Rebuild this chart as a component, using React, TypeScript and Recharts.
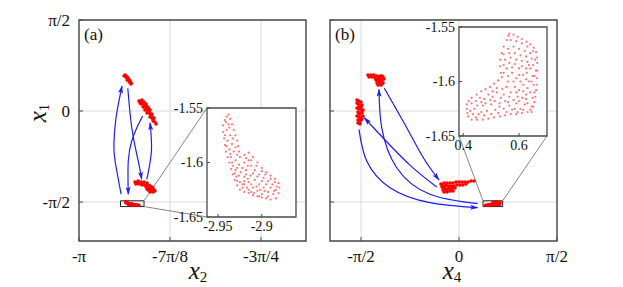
import React from 'react'
import {
  ComposedChart, Scatter, Line, XAxis, YAxis, CartesianGrid, ReferenceArea, ReferenceLine,
} from 'recharts'

type Pt = [number, number]
const PI = Math.PI

// axes
const A_XTICKS = [-PI, -7 * PI / 8, -3 * PI / 4]
const A_XLABELS = ['-π', '-7π/8', '-3π/4']
const B_XTICKS = [-PI / 2, 0, PI / 2]
const B_XLABELS = ['-π/2', '0', 'π/2']
const YTICKS = [-PI / 2, 0, PI / 2]
const YLABELS = ['-π/2', '0', 'π/2']
const ZOOM_YTICKS = [-1.65, -1.6, -1.55]
const A_ZOOM_XTICKS = [-2.95, -2.9]
const B_ZOOM_XTICKS = [0.4, 0.6]

// zoom windows (inset ranges)
const A_ZOOM_X: Pt = [-2.9625, -2.861]
const B_ZOOM_X: Pt = [0.385, 0.70]
const ZOOM_Y: Pt = [-1.65, -1.55]

// (a) clusters
const A_C1: Pt[] = [
  [-2.947, 0.604], [-2.943, 0.621], [-2.939, 0.604], [-2.939, 0.587], [-2.934, 0.587], [-2.934, 0.570],
  [-2.930, 0.552], [-2.934, 0.535], [-2.925, 0.535], [-2.921, 0.518], [-2.925, 0.500], [-2.917, 0.483],
  [-2.917, 0.466], [-2.930, 0.570], [-2.921, 0.500],
]
const A_C2: Pt[] = [
  [-2.883, 0.173], [-2.870, 0.190], [-2.861, 0.155], [-2.874, 0.121], [-2.861, 0.104], [-2.852, 0.121],
  [-2.865, 0.069], [-2.852, 0.052], [-2.844, 0.069], [-2.857, 0.017], [-2.844, 0.000], [-2.835, 0.017],
  [-2.848, -0.035], [-2.835, -0.052], [-2.827, -0.052], [-2.835, -0.104], [-2.827, -0.121], [-2.818, -0.121],
  [-2.822, -0.173], [-2.814, -0.190], [-2.809, -0.224], [-2.878, 0.138], [-2.865, 0.138], [-2.848, 0.035],
  [-2.839, -0.017], [-2.831, -0.086], [-2.874, 0.155], [-2.857, 0.086], [-2.878, 0.173], [-2.861, 0.121],
  [-2.852, 0.086], [-2.839, 0.035], [-2.827, -0.086], [-2.822, -0.138],
]
const A_C3: Pt[] = [
  [-2.900, -1.226], [-2.887, -1.208], [-2.874, -1.226], [-2.861, -1.226], [-2.848, -1.243], [-2.896, -1.260],
  [-2.883, -1.260], [-2.870, -1.277], [-2.857, -1.277], [-2.844, -1.277], [-2.835, -1.295], [-2.852, -1.312],
  [-2.839, -1.329], [-2.827, -1.312], [-2.844, -1.364], [-2.831, -1.364], [-2.818, -1.364], [-2.835, -1.398],
  [-2.822, -1.398], [-2.814, -1.381], [-2.891, -1.243], [-2.878, -1.243], [-2.865, -1.260], [-2.839, -1.295],
  [-2.831, -1.346], [-2.848, -1.346], [-2.822, -1.329],
]
// (a) zoomed cluster, also drawn small in the main panel
const A_C4: Pt[] = [
  // right edge, upper lobe
  [-2.938, -1.556], [-2.936, -1.560], [-2.934, -1.565], [-2.932, -1.570], [-2.930, -1.575], [-2.928, -1.580],
  [-2.927, -1.585], [-2.926, -1.590], [-2.925, -1.595],
  // lower lobe top / right
  [-2.920, -1.593], [-2.915, -1.591], [-2.910, -1.595], [-2.905, -1.600], [-2.900, -1.605], [-2.895, -1.609],
  [-2.890, -1.612], [-2.885, -1.615], [-2.881, -1.619], [-2.880, -1.623], [-2.881, -1.628], [-2.884, -1.633],
  // bottom
  [-2.890, -1.634], [-2.895, -1.633], [-2.900, -1.632], [-2.905, -1.631], [-2.910, -1.630], [-2.915, -1.628],
  [-2.920, -1.627], [-2.925, -1.625],
  // left edge
  [-2.928, -1.621], [-2.931, -1.616], [-2.933, -1.611], [-2.935, -1.606], [-2.937, -1.600], [-2.939, -1.595],
  [-2.941, -1.590], [-2.942, -1.584], [-2.943, -1.578], [-2.944, -1.572], [-2.944, -1.566], [-2.942, -1.561],
  [-2.940, -1.558],
  // interior
  [-2.938, -1.565], [-2.940, -1.570], [-2.936, -1.575], [-2.939, -1.580], [-2.934, -1.583], [-2.937, -1.588],
  [-2.932, -1.590], [-2.935, -1.595], [-2.930, -1.598], [-2.933, -1.603], [-2.928, -1.605], [-2.931, -1.610],
  [-2.926, -1.612], [-2.928, -1.617], [-2.922, -1.620], [-2.920, -1.600], [-2.915, -1.598], [-2.912, -1.603],
  [-2.918, -1.607], [-2.908, -1.607], [-2.913, -1.612], [-2.903, -1.611], [-2.920, -1.613], [-2.908, -1.616],
  [-2.898, -1.614], [-2.915, -1.618], [-2.903, -1.620], [-2.893, -1.617], [-2.910, -1.623], [-2.898, -1.623],
  [-2.888, -1.620], [-2.917, -1.623], [-2.905, -1.626], [-2.893, -1.627], [-2.886, -1.626], [-2.900, -1.629],
  [-2.912, -1.627], [-2.922, -1.605], [-2.918, -1.611],
  [-2.941, -1.563], [-2.937, -1.568], [-2.942, -1.575], [-2.933, -1.578], [-2.940, -1.585], [-2.930, -1.586],
  [-2.936, -1.592], [-2.928, -1.593], [-2.934, -1.600], [-2.926, -1.602], [-2.930, -1.607], [-2.924, -1.609],
  [-2.929, -1.613], [-2.925, -1.618], [-2.920, -1.617], [-2.918, -1.596], [-2.912, -1.598], [-2.906, -1.603],
  [-2.916, -1.603], [-2.900, -1.608], [-2.910, -1.610], [-2.896, -1.611], [-2.905, -1.613], [-2.916, -1.615],
  [-2.890, -1.615], [-2.900, -1.617], [-2.885, -1.618], [-2.912, -1.620], [-2.895, -1.620], [-2.906, -1.622],
  [-2.890, -1.623], [-2.883, -1.622], [-2.920, -1.620], [-2.902, -1.625], [-2.887, -1.629], [-2.897, -1.626],
  [-2.909, -1.628], [-2.884, -1.625], [-2.893, -1.631], [-2.903, -1.631], [-2.915, -1.625], [-2.922, -1.623],
]

// (b) clusters
const B_C1: Pt[] = [
  [-1.459, 0.621], [-1.410, 0.621], [-1.362, 0.621], [-1.314, 0.604], [-1.266, 0.604], [-1.218, 0.587],
  [-1.442, 0.587], [-1.394, 0.587], [-1.346, 0.570], [-1.298, 0.570], [-1.250, 0.552], [-1.202, 0.552],
  [-1.330, 0.535], [-1.282, 0.518], [-1.234, 0.518], [-1.314, 0.483], [-1.266, 0.483], [-1.218, 0.483],
  [-1.298, 0.449], [-1.250, 0.449], [-1.234, 0.604], [-1.282, 0.587], [-1.266, 0.535], [-1.298, 0.500],
  [-1.234, 0.466], [-1.426, 0.604], [-1.378, 0.604], [-1.298, 0.535], [-1.250, 0.500],
]
const B_C2: Pt[] = [
  [-1.635, 0.190], [-1.603, 0.173], [-1.571, 0.155], [-1.619, 0.121], [-1.587, 0.104], [-1.555, 0.104],
  [-1.635, 0.052], [-1.603, 0.035], [-1.571, 0.035], [-1.539, 0.017], [-1.619, -0.017], [-1.587, -0.035],
  [-1.555, -0.035], [-1.635, -0.086], [-1.603, -0.104], [-1.571, -0.104], [-1.539, -0.086], [-1.619, -0.155],
  [-1.587, -0.155], [-1.555, -0.138], [-1.619, -0.207], [-1.587, -0.224], [-1.635, 0.138], [-1.603, 0.069],
  [-1.587, -0.190], [-1.571, 0.069], [-1.555, 0.000], [-1.603, -0.052], [-1.571, -0.155],
]
const B_C3: Pt[] = [
  [-0.289, -1.260], [-0.240, -1.243], [-0.192, -1.243], [-0.144, -1.243], [-0.096, -1.243], [-0.048, -1.226],
  [0.000, -1.226], [0.048, -1.226], [0.096, -1.226], [0.144, -1.226], [0.192, -1.208], [0.240, -1.208],
  [-0.272, -1.312], [-0.224, -1.295], [-0.176, -1.295], [-0.128, -1.295], [-0.080, -1.295], [-0.032, -1.277],
  [0.016, -1.277], [0.064, -1.277], [0.112, -1.260], [-0.256, -1.364], [-0.208, -1.347], [-0.160, -1.347],
  [-0.112, -1.347], [-0.064, -1.329], [-0.240, -1.398], [-0.192, -1.398], [-0.144, -1.381], [-0.096, -1.381],
  [-0.272, -1.277], [-0.208, -1.277], [-0.160, -1.312], [-0.112, -1.312], [-0.240, -1.329], [-0.192, -1.364],
]
const B_C4: Pt[] = [
  // top and right edge
  [0.565, -1.556], [0.580, -1.557], [0.595, -1.559], [0.610, -1.561], [0.627, -1.5635], [0.640, -1.566],
  [0.652, -1.569], [0.661, -1.573], [0.664, -1.578], [0.665, -1.583], [0.665, -1.590], [0.664, -1.597],
  [0.663, -1.603], [0.661, -1.608], [0.658, -1.614], [0.655, -1.619], [0.651, -1.623], [0.645, -1.628],
  // bottom
  [0.630, -1.628], [0.610, -1.629], [0.590, -1.630], [0.570, -1.630], [0.550, -1.631], [0.532, -1.632],
  [0.510, -1.633], [0.490, -1.634], [0.470, -1.635], [0.450, -1.635], [0.430, -1.635], [0.418, -1.632],
  [0.415, -1.629],
  // left / middle edge
  [0.413, -1.625], [0.413, -1.621], [0.420, -1.618], [0.430, -1.615], [0.448, -1.612], [0.465, -1.609],
  [0.480, -1.607], [0.496, -1.605], [0.510, -1.602], [0.525, -1.599], [0.538, -1.596],
  [0.535, -1.592], [0.532, -1.586], [0.533, -1.580], [0.538, -1.574], [0.545, -1.568], [0.556, -1.562],
  [0.562, -1.558],
  // inner arcs
  [0.560, -1.595], [0.590, -1.597], [0.615, -1.594], [0.640, -1.588], [0.658, -1.580],
  [0.440, -1.625], [0.470, -1.622], [0.500, -1.621], [0.530, -1.620], [0.560, -1.619], [0.590, -1.620],
  [0.620, -1.621], [0.645, -1.623],
  // interior
  [0.560, -1.570], [0.580, -1.568], [0.600, -1.570], [0.620, -1.572], [0.640, -1.574], [0.550, -1.580],
  [0.570, -1.578], [0.590, -1.580], [0.610, -1.581], [0.630, -1.582], [0.650, -1.585], [0.555, -1.588],
  [0.575, -1.587], [0.600, -1.588], [0.625, -1.588], [0.648, -1.595], [0.652, -1.603], [0.635, -1.600],
  [0.615, -1.603], [0.640, -1.610], [0.625, -1.612], [0.648, -1.615], [0.600, -1.608], [0.585, -1.605],
  [0.570, -1.610], [0.555, -1.605], [0.545, -1.612], [0.520, -1.610], [0.505, -1.614], [0.490, -1.612],
  [0.475, -1.616], [0.460, -1.615], [0.445, -1.618], [0.430, -1.620], [0.425, -1.627], [0.455, -1.630],
  [0.485, -1.627], [0.515, -1.626], [0.545, -1.625], [0.575, -1.626], [0.605, -1.625], [0.630, -1.620],
  [0.612, -1.615], [0.595, -1.614], [0.580, -1.617],
  [0.570, -1.562], [0.590, -1.563], [0.610, -1.565], [0.630, -1.568], [0.650, -1.572], [0.545, -1.575],
  [0.565, -1.574], [0.585, -1.574], [0.605, -1.576], [0.625, -1.577], [0.645, -1.579], [0.660, -1.590],
  [0.545, -1.585], [0.565, -1.583], [0.585, -1.584], [0.610, -1.586], [0.635, -1.585], [0.655, -1.595],
  [0.545, -1.592], [0.575, -1.592], [0.600, -1.594], [0.628, -1.592], [0.645, -1.600], [0.625, -1.598],
  [0.605, -1.600], [0.580, -1.600], [0.560, -1.600], [0.655, -1.610], [0.630, -1.606], [0.615, -1.609],
  [0.590, -1.610], [0.565, -1.614], [0.550, -1.618], [0.535, -1.615], [0.512, -1.618], [0.497, -1.617],
  [0.480, -1.620], [0.465, -1.619], [0.450, -1.622], [0.435, -1.630], [0.445, -1.633], [0.465, -1.628],
  [0.475, -1.631], [0.500, -1.630], [0.525, -1.629], [0.530, -1.623], [0.555, -1.628], [0.565, -1.622],
  [0.585, -1.625], [0.595, -1.628], [0.615, -1.626], [0.625, -1.616], [0.640, -1.626], [0.600, -1.618],
  [0.520, -1.606], [0.540, -1.607], [0.505, -1.609],
]

// transitions (arrow paths)
const A_ARROWS: Pt[][] = [
  [[-2.960, -1.433], [-2.986, -0.863], [-2.991, -0.570], [-2.982, -0.121], [-2.956, 0.432]],
  [[-2.931, 0.392], [-2.921, -0.052], [-2.907, -0.461], [-2.886, -0.863], [-2.871, -1.179]],
  [[-2.867, -0.086], [-2.892, -0.288], [-2.914, -0.518], [-2.929, -0.863], [-2.929, -1.438]],
  [[-2.849, -1.179], [-2.829, -0.690], [-2.835, -0.202]],
]
const B_ARROWS: Pt[][] = [
  [[-1.197, 0.392], [-0.838, -0.288], [-0.572, -0.806], [-0.321, -1.191]],
  [[-0.357, -1.312], [-0.760, -0.960], [-1.170, -0.518], [-1.518, -0.116]],
  [[-1.603, -0.316], [-1.479, -0.863], [-1.106, -1.324], [-0.465, -1.583], [0.300, -1.669]],
  [[0.300, -1.600], [-0.465, -1.438], [-0.999, -0.979], [-1.239, -0.288], [-1.282, 0.375]],
]

const FONT = "'Liberation Serif', 'DejaVu Serif', serif"
const RED = '#ff0000'
const BLUE = '#1c1cff'
const FRAME = '#4a4a4a'
const H = 287
const Y_DOM: Pt = [PI / 2 - 221 * (PI / 2) / 91, PI / 2]

type Box = { left: number; top: number; w: number; h: number }
const A_BOX: Box = { left: 79, top: 20, w: 227, h: 221 }
const B_BOX: Box = { left: 330, top: 20, w: 227, h: 221 }
const A_XDOM: Pt = [-PI, -PI + 227 * (PI / 8) / 91]
const B_XDOM: Pt = [PI / 2 - 227 * (PI / 2) / 98, PI / 2]
const A_INSET: Box = { left: 207, top: 108, w: 89, h: 109 }
const B_INSET: Box = { left: 459, top: 27, w: 88, h: 109 }

const toObj = (p: Pt) => ({ x: p[0], y: p[1] })
const dot = (r: number, opacity = 1) => (p: any) =>
  <circle cx={p.cx} cy={p.cy} r={r} fill={RED} fillOpacity={opacity} />
const labelOf = (ticks: number[], labels: string[]) => (v: number) =>
  labels[ticks.findIndex(t => Math.abs(t - v) < 1e-6)] ?? ''

// pixel of the page -> data of a main panel (used to reach the inset corners)
const pxToData = (box: Box, xd: Pt, px: number, py: number) => ({
  x: xd[0] + (px - box.left) / box.w * (xd[1] - xd[0]),
  y: Y_DOM[1] - (py - box.top) / box.h * (Y_DOM[1] - Y_DOM[0]),
})

function MainPanel({
  left, width, box, xDom, xTicks, xLabels, showY, clusters, zoomPts, zoomX, arrows, links,
}: {
  left: number; width: number; box: Box; xDom: Pt; xTicks: number[]; xLabels: string[]; showY: boolean
  clusters: Pt[][]; zoomPts: Pt[]; zoomX: Pt; arrows: Pt[][]
  links: { from: { x: number; y: number }; to: { x: number; y: number } }[]
}) {
  const yW = showY ? 50 : 10
  const margin = {
    top: box.top,
    left: box.left - left - yW,
    right: left + width - (box.left + box.w),
    bottom: H - (box.top + box.h) - 30,
  }
  const tickStyle = { fontSize: 17, fill: '#111', fontFamily: FONT }
  return (
    <div style={{ position: 'absolute', left, top: 0 }}>
      <ComposedChart width={width} height={H} margin={margin}>
        <CartesianGrid stroke="#dadada" strokeWidth={1} />
        <XAxis
          type="number" dataKey="x" domain={xDom} ticks={xTicks} allowDataOverflow interval={0}
          tickFormatter={labelOf(xTicks, xLabels)} tick={tickStyle} height={30}
          axisLine={false} tickSize={-4} tickMargin={13} tickLine={{ stroke: FRAME }}
        />
        <YAxis
          type="number" dataKey="y" domain={Y_DOM} ticks={YTICKS} allowDataOverflow interval={0}
          tickFormatter={showY ? labelOf(YTICKS, YLABELS) : () => ''} tick={tickStyle} width={yW}
          axisLine={false} tickSize={-4} tickMargin={13} tickLine={{ stroke: FRAME }}
        />
        <ReferenceArea x1={xDom[0]} x2={xDom[1]} y1={Y_DOM[0]} y2={Y_DOM[1]}
          fill="none" stroke={FRAME} strokeWidth={1.4} fillOpacity={0} />
        {links.map((l, i) => (
          <ReferenceLine key={'l' + i} segment={[l.from, l.to]} stroke="#777" strokeWidth={0.9} ifOverflow="visible" />
        ))}
        <ReferenceArea x1={zoomX[0]} x2={zoomX[1]} y1={ZOOM_Y[0]} y2={ZOOM_Y[1]}
          fill="none" fillOpacity={0} stroke="#222" strokeWidth={1} />
        {clusters.map((c, i) => (
          <Scatter key={'c' + i} data={c.map(toObj)} shape={dot(1.8)} isAnimationActive={false} />
        ))}
        <Scatter data={zoomPts.map(toObj)} shape={dot(1.0)} isAnimationActive={false} />
        {arrows.map((a, i) => (
          <Line key={'a' + i} data={a.map(toObj)} dataKey="y" type="natural" stroke={BLUE}
            strokeWidth={1.2} dot={false} activeDot={false} isAnimationActive={false}
            markerEnd="url(#arrowHead)" />
        ))}
      </ComposedChart>
    </div>
  )
}

function Inset({ box, xDom, xTicks, pts }: { box: Box; xDom: Pt; xTicks: number[]; pts: Pt[] }) {
  const yW = 45
  const margin = { top: 8, left: 5, right: 6, bottom: 0 }
  const width = margin.left + yW + box.w + margin.right
  const height = margin.top + box.h + 25
  const tickStyle = { fontSize: 14, fill: '#111', fontFamily: FONT }
  return (
    <>
      <div style={{ position: 'absolute', left: box.left, top: box.top, width: box.w, height: box.h, background: '#fff' }} />
      <div style={{ position: 'absolute', left: box.left - yW - margin.left, top: box.top - margin.top }}>
        <ComposedChart width={width} height={height} margin={margin}>
          <XAxis
            type="number" dataKey="x" domain={xDom} ticks={xTicks} allowDataOverflow interval={0}
            tickFormatter={(v: number) => String(v)} tick={tickStyle} height={25}
            axisLine={false} tickSize={-3} tickMargin={7} tickLine={{ stroke: FRAME }}
          />
          <YAxis
            type="number" dataKey="y" domain={ZOOM_Y} ticks={ZOOM_YTICKS} allowDataOverflow interval={0}
            tickFormatter={(v: number) => String(v)} tick={tickStyle} width={yW}
            axisLine={false} tickSize={-3} tickMargin={7} tickLine={{ stroke: FRAME }}
          />
          <ReferenceArea x1={xDom[0]} x2={xDom[1]} y1={ZOOM_Y[0]} y2={ZOOM_Y[1]}
            fill="none" fillOpacity={0} stroke={FRAME} strokeWidth={1.3} />
          <Scatter data={pts.map(toObj)} shape={dot(1.1, 0.55)} isAnimationActive={false} />
        </ComposedChart>
      </div>
    </>
  )
}

const textBase: React.CSSProperties = { position: 'absolute', fontFamily: FONT, color: '#111', whiteSpace: 'nowrap', lineHeight: 1 }

function MathLabel({ left, top, sub, rotate }: { left: number; top: number; sub: string; rotate?: boolean }) {
  return (
    <div style={{
      ...textBase, left, top, fontSize: 25, fontStyle: 'italic',
      transform: `translate(-50%, -50%)${rotate ? ' rotate(-90deg)' : ''}`,
    }}>
      x<span style={{ fontSize: 15, fontStyle: 'normal', position: 'relative', top: 3 }}>{sub}</span>
    </div>
  )
}

export default function App() {
  const aLinks = [
    { from: { x: A_ZOOM_X[1], y: ZOOM_Y[1] }, to: pxToData(A_BOX, A_XDOM, A_INSET.left, A_INSET.top) },
    { from: { x: A_ZOOM_X[1], y: ZOOM_Y[0] }, to: pxToData(A_BOX, A_XDOM, A_INSET.left, A_INSET.top + A_INSET.h) },
  ]
  const bLinks = [
    { from: { x: B_ZOOM_X[0], y: ZOOM_Y[1] }, to: pxToData(B_BOX, B_XDOM, B_INSET.left, B_INSET.top + B_INSET.h) },
    { from: { x: B_ZOOM_X[1], y: ZOOM_Y[1] }, to: pxToData(B_BOX, B_XDOM, B_INSET.left + B_INSET.w, B_INSET.top + B_INSET.h) },
  ]
  return (
    <div style={{ position: 'absolute', left: 0, top: 0, width: 623, height: H, background: '#fff', overflow: 'hidden' }}>
      <style>{`.recharts-wrapper text, .recharts-wrapper tspan { font-family: 'Liberation Serif', 'DejaVu Serif', serif !important; }`}</style>
      <svg width={0} height={0} style={{ position: 'absolute' }}>
        <defs>
          <marker id="arrowHead" viewBox="0 0 8 5" refX={7.5} refY={2.5} markerWidth={8} markerHeight={5}
            markerUnits="userSpaceOnUse" orient="auto">
            <path d="M0,0 L8,2.5 L0,5 L1.8,2.5 Z" fill={BLUE} />
          </marker>
        </defs>
      </svg>
      <MainPanel left={0} width={310} box={A_BOX} xDom={A_XDOM} xTicks={A_XTICKS} xLabels={A_XLABELS}
        showY clusters={[A_C1, A_C2, A_C3]} zoomPts={A_C4} zoomX={A_ZOOM_X} arrows={A_ARROWS} links={aLinks} />
      <MainPanel left={310} width={313} box={B_BOX} xDom={B_XDOM} xTicks={B_XTICKS} xLabels={B_XLABELS}
        showY={false} clusters={[B_C1, B_C2, B_C3]} zoomPts={B_C4} zoomX={B_ZOOM_X} arrows={B_ARROWS} links={bLinks} />
      <Inset box={A_INSET} xDom={A_ZOOM_X} xTicks={A_ZOOM_XTICKS} pts={A_C4} />
      <Inset box={B_INSET} xDom={B_ZOOM_X} xTicks={B_ZOOM_XTICKS} pts={B_C4} />
      <div style={{ ...textBase, left: 84, top: 26, fontSize: 17 }}>(a)</div>
      <div style={{ ...textBase, left: 335, top: 26, fontSize: 17 }}>(b)</div>
      <MathLabel left={37} top={113} sub="1" rotate />
      <MathLabel left={198} top={270} sub="2" />
      <MathLabel left={452} top={270} sub="4" />
    </div>
  )
}
